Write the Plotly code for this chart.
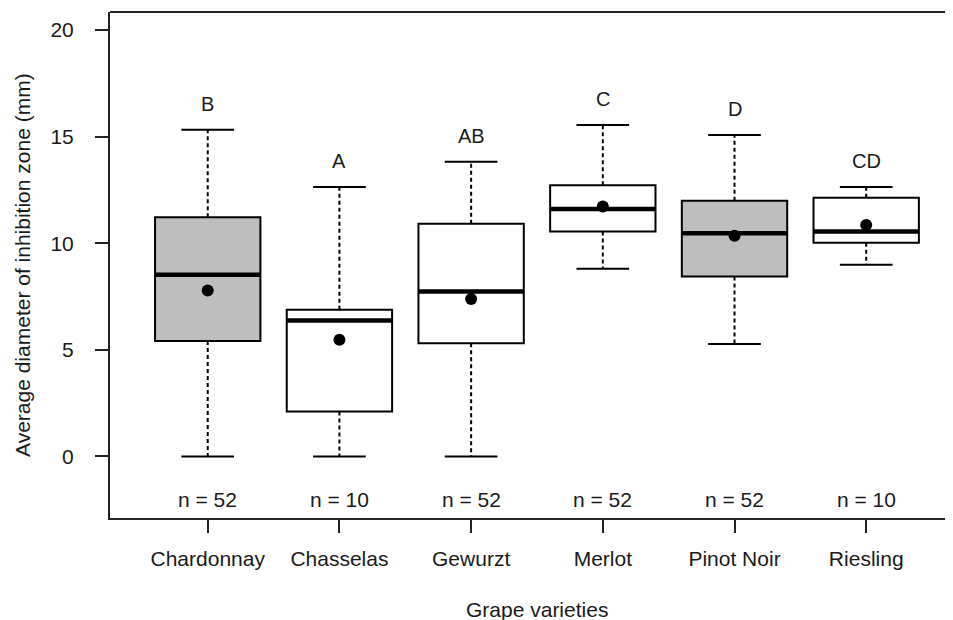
import plotly.graph_objects as go

categories = ["Chardonnay", "Chasselas", "Gewurzt", "Merlot", "Pinot Noir", "Riesling"]
lower_whisker = [0.0, 0.0, 0.0, 8.80, 5.27, 8.99]
q1_values = [5.41, 2.11, 5.31, 10.55, 8.44, 10.02]
median_values = [8.52, 6.38, 7.74, 11.61, 10.47, 10.55]
q3_values = [11.22, 6.88, 10.91, 12.72, 11.99, 12.13]
upper_whisker = [15.32, 12.64, 13.83, 15.55, 15.08, 12.64]
mean_values = [7.78, 5.47, 7.39, 11.72, 10.35, 10.86]
group_letters = ["B", "A", "AB", "C", "D", "CD"]
n_counts = [52, 10, 52, 52, 52, 10]
box_fills = ["#bebebe", "white", "white", "white", "#bebebe", "white"]
y_tick_values = [0, 5, 10, 15, 20]

FONT = "Liberation Sans, Arial, sans-serif"
TXT = "#1a1a1a"
BOX_W = 0.8
CAP_HALF = 0.2

positions = list(range(1, len(categories) + 1))
fig = go.Figure()

for i, pos in enumerate(positions):
    fig.add_trace(go.Box(
        x=[pos], q1=[q1_values[i]], median=[median_values[i]], q3=[q3_values[i]],
        lowerfence=[q1_values[i]], upperfence=[q3_values[i]],
        width=BOX_W, fillcolor=box_fills[i],
        line=dict(color="black", width=2), whiskerwidth=0,
        boxpoints=False, showlegend=False, hoverinfo="skip",
    ))

# whiskers (dashed)
wx, wy = [], []
for i, pos in enumerate(positions):
    wx += [pos, pos, None, pos, pos, None]
    wy += [q3_values[i], upper_whisker[i], None, q1_values[i], lower_whisker[i], None]
fig.add_trace(go.Scatter(x=wx, y=wy, mode="lines",
                         line=dict(color="black", width=2, dash="4px,3px"),
                         showlegend=False, hoverinfo="skip"))

# caps
cx, cy = [], []
for i, pos in enumerate(positions):
    cx += [pos - CAP_HALF, pos + CAP_HALF, None, pos - CAP_HALF, pos + CAP_HALF, None]
    cy += [upper_whisker[i], upper_whisker[i], None, lower_whisker[i], lower_whisker[i], None]
fig.add_trace(go.Scatter(x=cx, y=cy, mode="lines",
                         line=dict(color="black", width=2),
                         showlegend=False, hoverinfo="skip"))

# thick medians
mx, my = [], []
for i, pos in enumerate(positions):
    mx += [pos - BOX_W / 2, pos + BOX_W / 2, None]
    my += [median_values[i], median_values[i], None]
fig.add_trace(go.Scatter(x=mx, y=my, mode="lines",
                         line=dict(color="black", width=4.5),
                         showlegend=False, hoverinfo="skip"))

# means
fig.add_trace(go.Scatter(x=positions, y=mean_values, mode="markers",
                         marker=dict(color="black", size=12),
                         showlegend=False, hoverinfo="skip"))

annotations = []
for i, pos in enumerate(positions):
    annotations.append(dict(x=pos, y=upper_whisker[i], text=group_letters[i],
                            showarrow=False, yanchor="middle", yshift=26,
                            font=dict(size=20, color=TXT, family=FONT)))
    annotations.append(dict(x=pos, y=-2.03, text=f"n = {n_counts[i]}",
                            showarrow=False, yanchor="middle",
                            font=dict(size=21, color=TXT, family=FONT)))

annotations.append(dict(xref="paper", yref="paper", x=-0.1044, y=0.5,
                        text="Average diameter of inhibition zone (mm)",
                        textangle=-90, showarrow=False, xanchor="center", yanchor="middle",
                        font=dict(size=21, color=TXT, family=FONT)))
annotations.append(dict(xref="paper", yref="paper", x=0.506, y=-0.18,
                        text="Grape varieties", showarrow=False,
                        xanchor="center", yanchor="middle",
                        font=dict(size=21, color=TXT, family=FONT)))

fig.update_layout(
    width=945, height=612,
    margin=dict(l=102, r=0, t=4, b=102),
    paper_bgcolor="white", plot_bgcolor="white",
    font=dict(family=FONT, color=TXT, size=21),
    annotations=annotations,
    shapes=[dict(type="line", xref="paper", yref="paper", x0=0, x1=1, y0=1, y1=1,
                 line=dict(color="#222", width=2))],
    xaxis=dict(range=[0.258, 6.659], tickvals=positions, ticktext=categories,
               showgrid=False, zeroline=False, showline=True, linecolor="#222", linewidth=2,
               ticks="outside", ticklen=13, tickwidth=1.5, tickcolor="#222",
               ticklabelstandoff=8, tickfont=dict(size=21, color=TXT, family=FONT)),
    yaxis=dict(range=[-2.89, 20.85], tickvals=y_tick_values,
               showgrid=False, zeroline=False, showline=True, linecolor="#222", linewidth=2,
               ticks="outside", ticklen=13, tickwidth=1.5, tickcolor="#222",
               ticklabelstandoff=17, tickfont=dict(size=21, color=TXT, family=FONT)),
)

fig.write_html("out.html")
